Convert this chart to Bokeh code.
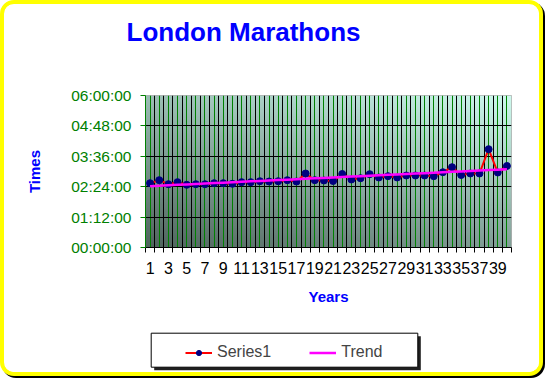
import numpy as np
from bokeh.plotting import figure
from bokeh.layouts import column
from bokeh.models import FixedTicker, Legend, LegendItem, Grid, BoxAnnotation
from bokeh.embed import file_html
from bokeh.resources import INLINE

# ---- data (race number, time in minutes) ----
years = list(range(1, 41))
times_min = [152.3, 159.4, 149.9, 154.7, 148.5, 149.9, 149.9, 152.3, 152.3, 150.9,
             154.7, 154.7, 157.0, 156.3, 157.0, 159.4, 156.3, 175.3, 159.4, 158.7,
             157.5, 174.1, 161.1, 164.1, 173.6, 165.8, 168.9, 165.8, 170.5, 170.5,
             170.5, 168.9, 178.3, 190.2, 171.7, 175.3, 175.3, 232.8, 177.6, 193.0]
x_ticks = list(range(1, 40, 2))
y_ticks = [0, 72, 144, 216, 288, 360]
y_tick_labels = ["00:00:00", "01:12:00", "02:24:00", "03:36:00", "04:48:00", "06:00:00"]
title_text = "London Marathons"
series_names = ["Series1", "Trend"]

trend = np.polyval(np.polyfit(years, times_min, 1), years)

FONT = "Liberation Sans"
W = 535
FRAME_W = 366
x_lo, x_hi = years[0] - 0.5, years[-1] + 0.5
y_lo, y_hi = y_ticks[0], y_ticks[-1]


def blank(h, top=0):
    f = figure(width=W, height=h, x_range=(0, FRAME_W), y_range=(0, h - top),
               output_backend="svg", toolbar_location=None,
               min_border_left=141, min_border_right=W - 141 - FRAME_W,
               min_border_top=top, min_border_bottom=0)
    f.axis.visible = False
    f.grid.visible = False
    f.outline_line_color = None
    f.background_fill_color = "white"
    f.border_fill_color = "white"
    return f


# ---- title strip ----
pt = blank(60, top=42)
pt.title.text = title_text
pt.title.text_font = FONT
pt.title.text_font_size = "26px"
pt.title.text_font_style = "bold"
pt.title.text_color = "#0000ff"
pt.title.align = "left"
pt.title.offset = -19
pt.title.standoff = 0

# ---- main chart ----
p = figure(width=W, height=243, x_range=(x_lo, x_hi), y_range=(y_lo, y_hi),
           output_backend="svg", toolbar_location=None,
           min_border_left=141, min_border_right=W - 141 - FRAME_W,
           min_border_top=31, min_border_bottom=60)
p.background_fill_color = None
p.border_fill_color = "white"
p.outline_line_color = "#b0b0b0"

# gradient background of plot area
ny, nx = 64, 128
u = np.linspace(0, 1, nx)[None, :]
v = np.linspace(0, 1, ny)[:, None]
t = 0.4 * u + 0.6 * v
dark = np.array([80, 100, 94], dtype=float)
light = np.array([206, 250, 238], dtype=float)
rgb = dark + (light - dark) * t[..., None]
img = np.empty((ny, nx), dtype=np.uint32)
view = img.view(dtype=np.uint8).reshape((ny, nx, 4))
view[..., :3] = rgb.astype(np.uint8)
view[..., 3] = 255
p.image_rgba(image=[img], x=x_lo, y=y_lo, dw=x_hi - x_lo, dh=y_hi - y_lo, level="image")

# grids
bounds = [y0 - 0.5 for y0 in years] + [years[-1] + 0.5]
p.xgrid.ticker = FixedTicker(ticks=years)
p.xgrid.grid_line_color = "#008000"
p.xgrid.grid_line_width = 1
p.add_layout(Grid(dimension=0, ticker=FixedTicker(ticks=bounds), grid_line_color="black", grid_line_width=1))
p.ygrid.ticker = FixedTicker(ticks=y_ticks[1:-1])
p.ygrid.grid_line_color = "black"

# axes
p.xaxis.ticker = FixedTicker(ticks=x_ticks, minor_ticks=bounds)
p.xaxis.major_tick_out = 0
p.xaxis.major_tick_in = 0
p.xaxis.minor_tick_out = 5
p.xaxis.minor_tick_in = 0
p.xaxis.minor_tick_line_color = "black"
p.xaxis.axis_line_color = "black"
p.xaxis.major_label_text_font = FONT
p.xaxis.major_label_text_font_size = "16px"
p.xaxis.major_label_text_color = "black"
p.xaxis.major_label_standoff = 9
p.xaxis.axis_label = "Years"
p.xaxis.axis_label_text_font = FONT
p.xaxis.axis_label_text_font_size = "15px"
p.xaxis.axis_label_text_font_style = "bold"
p.xaxis.axis_label_text_color = "#0000ff"
p.xaxis.axis_label_standoff = 11

p.yaxis.ticker = FixedTicker(ticks=y_ticks)
p.yaxis.major_label_overrides = dict(zip(y_ticks, y_tick_labels))
p.yaxis.axis_line_color = "#008000"
p.yaxis.major_tick_line_color = "#008000"
p.yaxis.major_tick_out = 5
p.yaxis.major_tick_in = 0
p.yaxis.minor_tick_line_color = None
p.yaxis.major_label_text_font = FONT
p.yaxis.major_label_text_font_size = "15.5px"
p.yaxis.major_label_text_color = "#008000"
p.yaxis.major_label_standoff = 9
p.yaxis.axis_label = "Times"
p.yaxis.axis_label_text_font = FONT
p.yaxis.axis_label_text_font_size = "15px"
p.yaxis.axis_label_text_font_style = "bold"
p.yaxis.axis_label_text_color = "#0000ff"
p.yaxis.axis_label_standoff = 25

SERIES_STYLE = dict(line_color="#ff0000", line_width=2)
MARKER_STYLE = dict(size=7, fill_color="#000080", line_color="#000080")
TREND_STYLE = dict(line_color="#ff00ff", line_width=2.5)

p.line(years, times_min, **SERIES_STYLE)
p.scatter(years, times_min, **MARKER_STYLE)
p.line(years, trend, **TREND_STYLE)

# ---- legend strip (legend keys only, no data drawn) ----
LEG_H = 65
pl = blank(LEG_H)
# legend frame with drop shadow (strip units are pixels of its frame)
pl.add_layout(BoxAnnotation(left=8.7, right=275.3, bottom=2.3, top=36.3,
                            fill_color="#202020", fill_alpha=1, line_alpha=0))
pl.add_layout(BoxAnnotation(left=5.7, right=272.3, bottom=5.3, top=39.3,
                            fill_color="white", fill_alpha=1,
                            line_color="black", line_width=1, line_alpha=1))
k1 = pl.line([np.nan], [np.nan], **SERIES_STYLE)
k2 = pl.scatter([np.nan], [np.nan], **MARKER_STYLE)
k3 = pl.line([np.nan], [np.nan], **TREND_STYLE)
legend = Legend(items=[LegendItem(label=series_names[0], renderers=[k1, k2]),
                       LegendItem(label=series_names[1], renderers=[k3])],
                orientation="horizontal", location=(33, 4),
                glyph_width=27, glyph_height=13, label_standoff=5, spacing=38, padding=7,
                border_line_alpha=0, background_fill_alpha=0,
                label_text_font=FONT, label_text_font_size="16px", margin=0)
pl.add_layout(legend, "center")

layout = column(pt, p, pl, spacing=0)
layout.styles = {"border": "4px solid #ffff00", "border-radius": "14px",
                 "box-shadow": "2px 2px 0 #000000", "overflow": "hidden",
                 "box-sizing": "border-box", "width": "543px", "height": "376px",
                 "background-color": "white"}

open("out.html", "w").write(file_html(layout, INLINE))
